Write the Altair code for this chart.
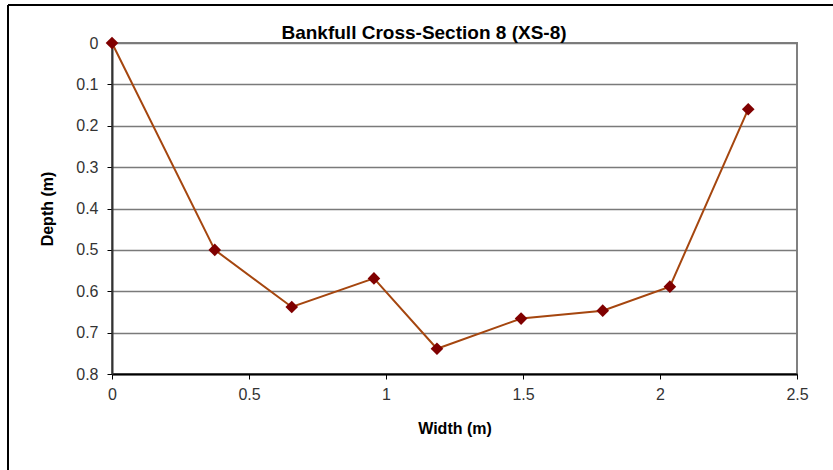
import altair as alt
import pandas as pd

# Surveyed bankfull cross-section XS-8: station across the channel and depth below bankfull
width_m = [0, 0.375, 0.656, 0.956, 1.186, 1.493, 1.791, 2.036, 2.322]
depth_m = [0, 0.50, 0.638, 0.569, 0.739, 0.666, 0.647, 0.589, 0.160]

x_ticks = [0, 0.5, 1, 1.5, 2, 2.5]
y_ticks = [0, 0.1, 0.2, 0.3, 0.4, 0.5, 0.6, 0.7, 0.8]

chart_title = "Bankfull Cross-Section 8 (XS-8)"

df = pd.DataFrame({"width": width_m, "depth": depth_m, "order": list(range(len(width_m)))})
title_df = pd.DataFrame({"label": [chart_title]})

FONT = "Liberation Sans"

x_enc = alt.X(
    "width:Q",
    scale=alt.Scale(domain=[0, 2.5], nice=False, zero=False),
    axis=alt.Axis(
        values=x_ticks, format="~g", labelFlush=False, title="Width (m)", grid=False,
        domainColor="#000000", domainWidth=2,
        tickColor="#000000", tickSize=5, tickWidth=1,
        labelFont=FONT, labelFontSize=16, labelColor="#333333", labelPadding=7,
        titleFont=FONT, titleFontSize=16, titleFontWeight="bold", titleColor="#000000",
        titlePadding=18,
    ),
)
y_enc = alt.Y(
    "depth:Q",
    scale=alt.Scale(domain=[0, 0.8], nice=False, zero=False, reverse=True),
    axis=alt.Axis(
        values=y_ticks, format="~g", labelFlush=False, title="Depth (m)", grid=True,
        gridColor="#7a7a7a", gridWidth=1.5,
        domainColor="#333333", domainWidth=2,
        tickColor="#000000", tickSize=5, tickWidth=1,
        labelFont=FONT, labelFontSize=16, labelColor="#333333", labelPadding=9,
        titleFont=FONT, titleFontSize=16, titleFontWeight="bold", titleColor="#000000",
        titlePadding=20,
    ),
)

base = alt.Chart(df)

# Outer chart frame
frame = base.mark_rect(fill=None, stroke="#000000", strokeWidth=1, clip=False).encode(
    x=alt.value(-104), x2=alt.value(760), y=alt.value(-38), y2=alt.value(500)
)

# Chart heading, centred on the whole chart area
heading = alt.Chart(title_df).mark_text(
    font=FONT, fontSize=19, fontWeight="bold", color="#000000",
    align="center", baseline="alphabetic",
).encode(x=alt.value(312), y=alt.value(-4), text="label:N")

line = base.mark_line(color="#A5460F", strokeWidth=2).encode(x=x_enc, y=y_enc, order="order:Q")
points = base.mark_point(shape="diamond", filled=True, color="#800000", size=160, opacity=1).encode(
    x="width:Q", y="depth:Q"
)

chart = (
    alt.layer(frame, line, points, heading)
    .properties(
        width=685,
        height=331,
        autosize=alt.AutoSizeParams(type="none"),
        padding={"left": 112, "top": 43, "right": 36, "bottom": 96},
        background="#ffffff",
    )
    .configure_view(stroke="#808080", strokeWidth=2)
)

chart.save("out.html", embed_options={"renderer": "svg", "actions": False})
